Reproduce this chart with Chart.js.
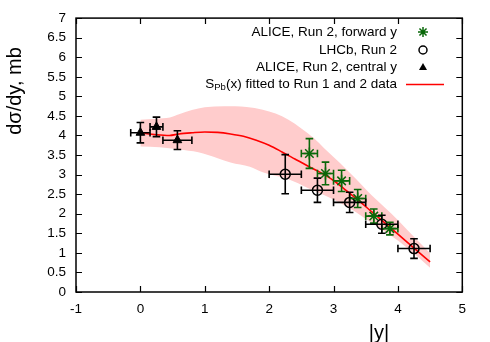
<!DOCTYPE html>
<html><head><meta charset="utf-8">
<script src="https://cdn.jsdelivr.net/npm/chart.js@4"></script>
<style>html,body{margin:0;padding:0;background:#fff}#wrap{width:490px;height:342px;position:relative}</style>
</head><body><div id="wrap"><canvas id="c" width="490" height="342"></canvas></div>
<script>
// ---- data ----
const xTickValues = [-1, 0, 1, 2, 3, 4, 5];
const xTickLabels = ['-1', '0', '1', '2', '3', '4', '5'];
const yTickValues = [0, 0.5, 1, 1.5, 2, 2.5, 3, 3.5, 4, 4.5, 5, 5.5, 6, 6.5, 7];
const yTickLabels = ['0', '0.5', '1', '1.5', '2', '2.5', '3', '3.5', '4', '4.5', '5', '5.5', '6', '6.5', '7'];

const forwardX = [2.625, 2.875, 3.125, 3.375, 3.625, 3.875];
const forwardY = [3.54, 3.03, 2.84, 2.39, 1.94, 1.62];
const forwardXErr = [0.125, 0.125, 0.125, 0.125, 0.125, 0.125];
const forwardYErr = [0.38, 0.29, 0.27, 0.23, 0.18, 0.16];

const lhcbX = [2.25, 2.75, 3.25, 3.75, 4.25];
const lhcbY = [3.01, 2.60, 2.29, 1.73, 1.11];
const lhcbXErr = [0.25, 0.25, 0.25, 0.25, 0.25];
const lhcbYErr = [0.50, 0.31, 0.26, 0.23, 0.25];

const centralX = [0.0, 0.25, 0.575];
const centralY = [4.07, 4.22, 3.88];
const centralXErr = [0.15, 0.10, 0.225];
const centralYErr = [0.26, 0.25, 0.24];

const fitX = [0.0, 0.25, 0.45, 0.6, 0.8, 1.0, 1.2, 1.4, 1.6, 1.8, 2.0, 2.2, 2.4, 2.6, 2.8, 3.0, 3.2, 3.4, 3.6, 3.8, 4.0, 4.25, 4.5];
const fitY = [4.07, 4.02, 4.00, 4.04, 4.07, 4.09, 4.08, 4.04, 3.98, 3.88, 3.75, 3.58, 3.40, 3.22, 3.05, 2.85, 2.59, 2.32, 2.04, 1.76, 1.48, 1.12, 0.77];

const bandUpX = [0.0, 0.25, 0.46, 0.6, 0.8, 1.0, 1.3, 1.65, 1.9, 2.1, 2.3, 2.5, 2.7, 2.85, 3.1, 3.35, 3.6, 3.9, 4.15, 4.5];
const bandUpY = [4.40, 4.43, 4.46, 4.54, 4.65, 4.72, 4.75, 4.73, 4.66, 4.56, 4.40, 4.18, 3.92, 3.68, 3.30, 2.89, 2.46, 2.00, 1.58, 0.99];
const bandLoX = [0.0, 0.3, 0.6, 0.9, 1.2, 1.4, 1.7, 1.9, 2.3, 2.6, 2.85, 3.1, 3.35, 3.6, 3.9, 4.15, 4.5];
const bandLoY = [3.72, 3.70, 3.64, 3.57, 3.42, 3.31, 3.20, 3.06, 2.88, 2.66, 2.48, 2.28, 2.04, 1.76, 1.43, 1.12, 0.62];

const legendLabels = ['ALICE, Run 2, forward y', 'LHCb, Run 2', 'ALICE, Run 2, central y', '(x) fitted to Run 1 and 2 data'];
const xTitle = '|y|';
const yTitle = 'dσ/dy, mb';

const GREEN = '#0a680a';
const FONT = '"Liberation Sans", Arial, sans-serif';

const pts = (xs, ys) => xs.map((x, i) => ({x: x, y: ys[i]}));

const errBars = [
  {xs: forwardX, ys: forwardY, xe: forwardXErr, ye: forwardYErr, color: GREEN},
  {xs: lhcbX, ys: lhcbY, xe: lhcbXErr, ye: lhcbYErr, color: '#000'},
  {xs: centralX, ys: centralY, xe: centralXErr, ye: centralYErr, color: '#000'}
];

const decor = {
  id: 'decor',
  afterDatasetsDraw(chart) {
    const ctx = chart.ctx, xs = chart.scales.x, ys = chart.scales.y, a = chart.chartArea;
    ctx.save();
    // error bars
    ctx.lineWidth = 1.6;
    errBars.forEach(s => {
      ctx.strokeStyle = s.color;
      s.xs.forEach((xv, i) => {
        const px = xs.getPixelForValue(xv), py = ys.getPixelForValue(s.ys[i]);
        const x1 = xs.getPixelForValue(xv - s.xe[i]), x2 = xs.getPixelForValue(xv + s.xe[i]);
        const y1 = ys.getPixelForValue(s.ys[i] - s.ye[i]), y2 = ys.getPixelForValue(s.ys[i] + s.ye[i]);
        const c = 3.8;
        ctx.beginPath();
        ctx.moveTo(x1, py); ctx.lineTo(x2, py);
        ctx.moveTo(px, y1); ctx.lineTo(px, y2);
        ctx.moveTo(x1, py - c); ctx.lineTo(x1, py + c);
        ctx.moveTo(x2, py - c); ctx.lineTo(x2, py + c);
        ctx.moveTo(px - c, y1); ctx.lineTo(px + c, y1);
        ctx.moveTo(px - c, y2); ctx.lineTo(px + c, y2);
        ctx.stroke();
      });
    });
    // frame and inward ticks
    ctx.strokeStyle = '#000';
    ctx.lineWidth = 1.5;
    ctx.strokeRect(a.left, a.top, a.right - a.left, a.bottom - a.top);
    ctx.beginPath();
    const tl = 6;
    xTickValues.forEach(v => {
      const p = Math.round(xs.getPixelForValue(v)) + 0.5;
      ctx.moveTo(p, a.bottom); ctx.lineTo(p, a.bottom - tl);
      ctx.moveTo(p, a.top); ctx.lineTo(p, a.top + tl);
    });
    yTickValues.forEach(v => {
      const p = Math.round(ys.getPixelForValue(v)) + 0.5;
      ctx.moveTo(a.left, p); ctx.lineTo(a.left + tl, p);
      ctx.moveTo(a.right, p); ctx.lineTo(a.right - tl, p);
    });
    ctx.lineWidth = 1.2;
    ctx.stroke();

    // axis titles
    ctx.fillStyle = '#000';
    ctx.font = '20px ' + FONT;
    ctx.textAlign = 'center';
    ctx.textBaseline = 'middle';
    ctx.fillText(xTitle, 379, 333);
    ctx.save();
    ctx.translate(15, 91);
    ctx.rotate(-Math.PI / 2);
    ctx.fillText(yTitle, 0, 0);
    ctx.restore();

    // legend
    const rx = 397, sx = 423;
    const rows = [32, 50, 67, 84];
    ctx.font = '13.5px ' + FONT;
    ctx.textAlign = 'right';
    for (let i = 0; i < 3; i++) ctx.fillText(legendLabels[i], rx, rows[i]);
    // S_Pb(x) label
    const mainW = ctx.measureText(legendLabels[3]).width;
    ctx.fillText(legendLabels[3], rx, rows[3]);
    ctx.font = '9.5px ' + FONT;
    const subW = ctx.measureText('Pb').width;
    ctx.textAlign = 'left';
    ctx.fillText('Pb', rx - mainW - subW, rows[3] + 3);
    ctx.font = '13.5px ' + FONT;
    const sW = ctx.measureText('S').width;
    ctx.fillText('S', rx - mainW - subW - sW, rows[3]);

    ctx.strokeStyle = GREEN; ctx.lineWidth = 1.5;
    ctx.beginPath();
    [[1,0],[0,1],[0.707,0.707],[0.707,-0.707]].forEach(d => {
      ctx.moveTo(sx - d[0]*5, rows[0] - d[1]*5); ctx.lineTo(sx + d[0]*5, rows[0] + d[1]*5);
    });
    ctx.stroke();
    ctx.strokeStyle = '#000';
    ctx.beginPath(); ctx.arc(sx, rows[1], 4, 0, Math.PI * 2); ctx.stroke();
    ctx.fillStyle = '#000';
    ctx.beginPath(); ctx.moveTo(sx - 4, rows[2] + 3); ctx.lineTo(sx + 4, rows[2] + 3); ctx.lineTo(sx, rows[2] - 4); ctx.closePath(); ctx.fill();
    ctx.strokeStyle = '#ff0000'; ctx.lineWidth = 1.5;
    ctx.beginPath(); ctx.moveTo(406, rows[3] + 0.5); ctx.lineTo(444, rows[3] + 0.5); ctx.stroke();
    ctx.restore();
  }
};

new Chart(document.getElementById('c'), {
  type: 'scatter',
  data: {
    datasets: [
      {label: 'band upper', data: pts(bandUpX, bandUpY), showLine: true, fill: '+1', backgroundColor: '#ffcccc',
       borderWidth: 0, borderColor: 'rgba(0,0,0,0)', pointRadius: 0, cubicInterpolationMode: 'monotone', order: 10},
      {label: 'band lower', data: pts(bandLoX, bandLoY), showLine: true, fill: false,
       borderWidth: 0, borderColor: 'rgba(0,0,0,0)', pointRadius: 0, cubicInterpolationMode: 'monotone', order: 10},
      {label: 'fit', data: pts(fitX, fitY), showLine: true, fill: false, borderColor: '#ff0000', borderWidth: 1.6,
       pointRadius: 0, cubicInterpolationMode: 'monotone', order: 9},
      {label: legendLabels[0], data: pts(forwardX, forwardY), pointStyle: 'star', pointRadius: 6,
       borderColor: GREEN, backgroundColor: GREEN, pointBorderWidth: 1.5, order: 3},
      {label: legendLabels[1], data: pts(lhcbX, lhcbY), pointStyle: 'circle', pointRadius: 5,
       borderColor: '#000', backgroundColor: 'rgba(0,0,0,0)', pointBorderWidth: 1.5, order: 2},
      {label: legendLabels[2], data: pts(centralX, centralY), pointStyle: 'triangle', pointRadius: 5,
       borderColor: '#000', backgroundColor: '#000', pointBorderWidth: 1, order: 1}
    ]
  },
  options: {
    responsive: false,
    animation: false,
    devicePixelRatio: 1,
    layout: {padding: {left: 0, right: 27.7, top: 17.5, bottom: 0}},
    plugins: {legend: {display: false}, tooltip: {enabled: false}},
    scales: {
      x: {
        type: 'linear', min: -1, max: 5,
        afterBuildTicks: s => { s.ticks = xTickValues.map(v => ({value: v})); },
        ticks: {callback: (v) => xTickLabels[xTickValues.indexOf(v)], font: {family: FONT, size: 13.5}, color: '#000', padding: 9, maxRotation: 0},
        grid: {display: false, drawTicks: false},
        border: {display: false},
        afterFit: s => { s.height = 50; }
      },
      y: {
        type: 'linear', min: 0, max: 7,
        afterBuildTicks: s => { s.ticks = yTickValues.map(v => ({value: v})); },
        ticks: {callback: (v) => yTickLabels[yTickValues.indexOf(v)], font: {family: FONT, size: 13.5}, color: '#000', padding: 10},
        grid: {display: false, drawTicks: false},
        border: {display: false},
        afterFit: s => { s.width = 76; }
      }
    }
  },
  plugins: [decor]
});
</script>
</body></html>
